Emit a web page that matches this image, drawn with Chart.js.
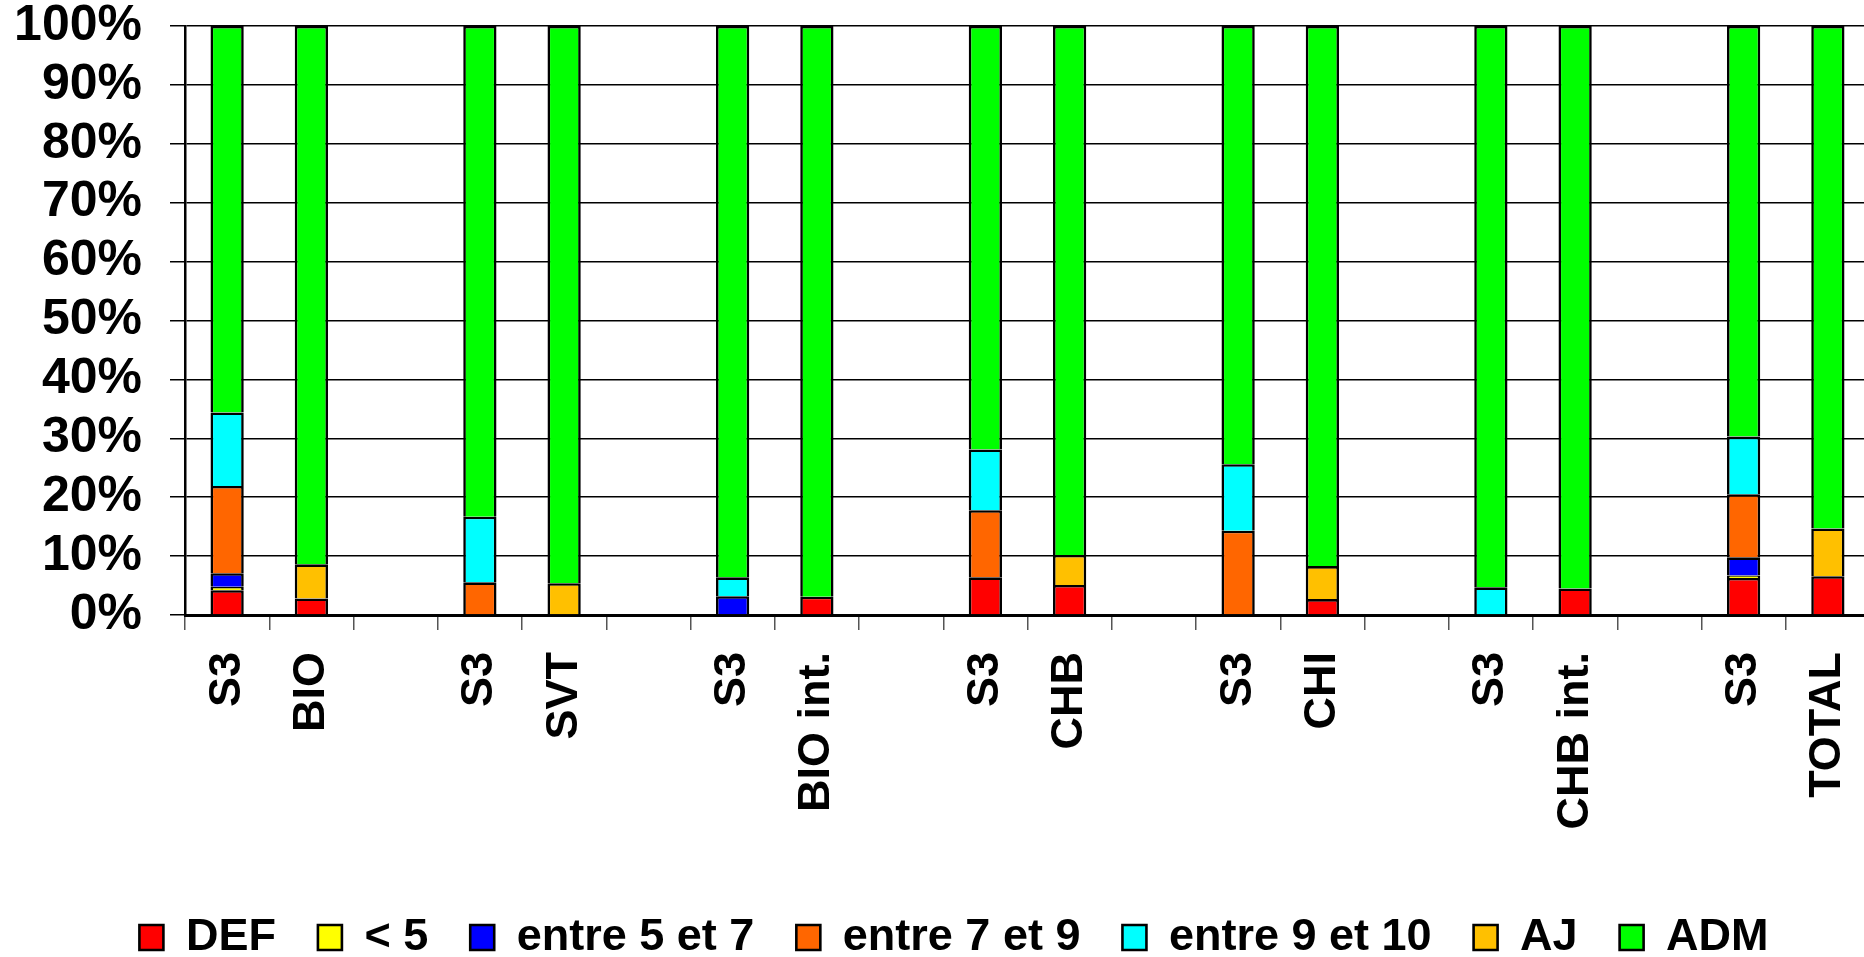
<!DOCTYPE html>
<html><head><meta charset="utf-8">
<script src="https://cdn.jsdelivr.net/npm/chart.js@4"></script>
<style>
html,body{margin:0;padding:0;background:#fff;overflow:hidden}
#wrap{width:1864px;height:957px;overflow:hidden;position:relative;background:#fff}
canvas{display:block}
</style></head><body>
<div id="wrap"><canvas id="c" width="1872" height="970" style="width:1872px;height:970px"></canvas></div>
<script>
const categories = ['S3','BIO','','S3','SVT','','S3','BIO int.','','S3','CHB','','S3','CHI','','S3','CHB int.','','S3','TOTAL'];
const seriesNames = ['DEF','< 5','entre 5 et 7','entre 7 et 9','entre 9 et 10','AJ','ADM'];
const seriesColors = ['#FF0000','#FFFF00','#0000FF','#FF6600','#00FFFF','#FFC000','#00FF00'];
const DEF      = [4.2, 2.8, null, 0, 0, null, 0, 3.1, null, 6.4, 5.1, null, 0, 2.7, null, 0, 4.5, null, 6.3, 6.6];
const LT5      = [0.6, 0, null, 0, 0, null, 0, 0, null, 0, 0, null, 0, 0, null, 0, 0, null, 0.4, 0];
const E5_7     = [2.3, 0, null, 0, 0, null, 3.2, 0, null, 0, 0, null, 0, 0, null, 0, 0, null, 3.1, 0];
const E7_9     = [14.8, 0, null, 5.55, 0, null, 0, 0, null, 11.4, 0, null, 14.3, 0, null, 0, 0, null, 10.7, 0];
const E9_10    = [12.5, 0, null, 11.15, 0, null, 3.2, 0, null, 10.3, 0, null, 11.3, 0, null, 4.7, 0, null, 9.8, 0];
const AJ       = [0, 5.8, null, 0, 5.4, null, 0, 0, null, 0, 5.1, null, 0, 5.6, null, 0, 0, null, 0, 8.1];
const ADM      = [65.6, 91.4, null, 83.3, 94.6, null, 93.6, 96.9, null, 71.9, 89.8, null, 74.4, 91.7, null, 95.3, 95.5, null, 69.7, 85.3];
const yTickValues = [0,10,20,30,40,50,60,70,80,90,100];

const seriesData = [DEF, LT5, E5_7, E7_9, E9_10, AJ, ADM];
const FONT = "'Liberation Sans', Arial, sans-serif";

const datasets = seriesNames.map((name, i) => ({
  label: name,
  data: seriesData[i],
  backgroundColor: seriesColors[i],
  borderColor: '#000000',
  borderWidth: 2.6,
  borderSkipped: 'start',
  categoryPercentage: 1.0,
  barPercentage: 0.395
}));

const legendShift = {
  id: 'legendShift',
  afterLayout(chart) {
    if (chart.legend) { chart.legend.left += 19; chart.legend.right += 19; }
  }
};

new Chart(document.getElementById('c'), {
  type: 'bar',
  data: { labels: categories, datasets },
  plugins: [legendShift],
  options: {
    responsive: false,
    animation: false,
    devicePixelRatio: 1,
    layout: { padding: { top: 26, left: 0, right: 2, bottom: 0 } },
    plugins: {
      tooltip: { enabled: false },
      legend: {
        display: true,
        position: 'bottom',
        align: 'center',
        labels: {
          color: '#000',
          font: { family: FONT, size: 45, weight: 'bold' },
          boxWidth: 24,
          boxHeight: 25,
          padding: 42
        }
      }
    },
    scales: {
      x: {
        stacked: true,
        offset: true,
        grid: { display: true, drawOnChartArea: false, drawTicks: true, tickLength: 15, color: '#555', lineWidth: 1.5, offset: true },
        border: { display: true, color: '#000', width: 3 },
        ticks: {
          autoSkip: false, maxRotation: 90, minRotation: 90, padding: 22,
          color: '#000', font: { family: FONT, size: 45, weight: 'bold' }
        },
        afterFit: (s) => { s.height = 258; s.paddingLeft = 0; s.paddingRight = 0; }
      },
      y: {
        stacked: true,
        min: 0, max: 100,
        afterBuildTicks: (s) => { s.ticks = yTickValues.map(v => ({ value: v })); },
        grid: { display: true, drawOnChartArea: true, drawTicks: true, tickLength: 15, color: '#000', lineWidth: 1.5 },
        border: { display: true, color: '#000', width: 2.5 },
        ticks: {
          autoSkip: false, padding: 28, color: '#000',
          font: { family: FONT, size: 50, weight: 'bold' },
          callback: (v) => v + '%'
        },
        afterFit: (s) => { s.width = 185; s.paddingTop = 0; s.paddingBottom = 0; }
      }
    }
  }
});
</script>
</body></html>
